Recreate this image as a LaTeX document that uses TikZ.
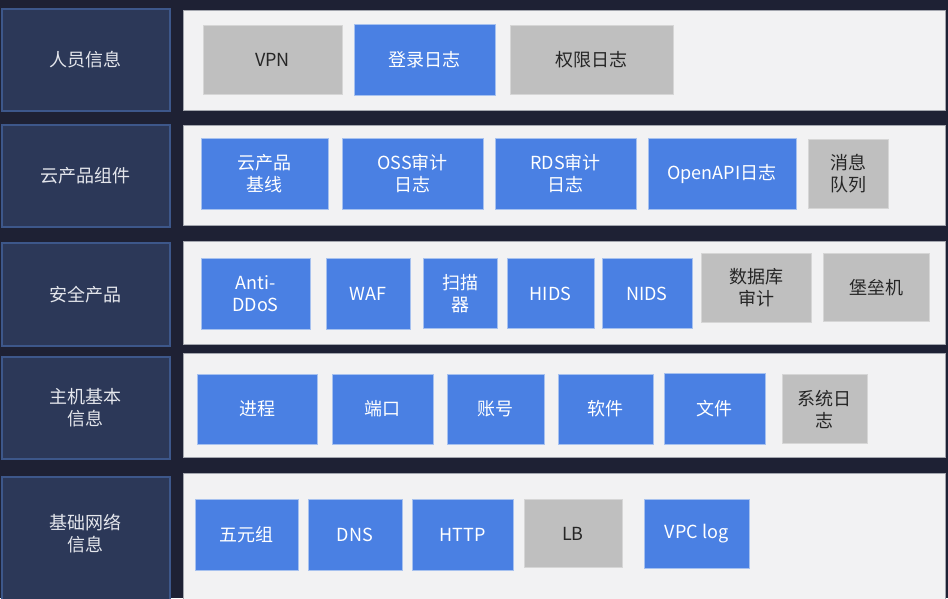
\documentclass[tikz,border=0pt]{standalone}
\usepackage{fontspec}
\setmainfont{Noto Sans CJK SC}
\usetikzlibrary{positioning}
\definecolor{pagebg}{HTML}{1E2134}
\definecolor{catfill}{HTML}{2C3858}
\definecolor{catdraw}{HTML}{3D578A}
\definecolor{cattext}{HTML}{E4E6EC}
\definecolor{panelfill}{HTML}{F2F2F3}
\definecolor{paneldraw}{HTML}{A3A6AE}
\definecolor{srcblue}{HTML}{4A80E3}
\definecolor{srcbluedraw}{HTML}{A6C1EF}
\definecolor{srcgray}{HTML}{BFBFBF}
\definecolor{srcgraydraw}{HTML}{D6D6D6}

\begin{document}
\begin{tikzpicture}[
    x=1pt, y=-1pt,
    font=\fontsize{18}{22}\selectfont,
    cat/.style={draw=catdraw, line width=1.5pt, fill=catfill, text=cattext,
                minimum width=168pt, inner sep=0pt, align=center,
                anchor=north west},
    panel/.style={draw=paneldraw, line width=0.8pt, fill=panelfill,
                  minimum width=762pt, inner sep=0pt, anchor=north west},
    src/.style={inner sep=0pt, outer sep=0pt, line width=0.8pt, align=center},
    bluesrc/.style={src, fill=srcblue, draw=srcbluedraw, text=white},
    graysrc/.style={src, fill=srcgray, draw=srcgraydraw, text=black!85},
]

\useasboundingbox (0,0) rectangle (948,598);
\fill[pagebg] (0,0) rectangle (948,598);

% === Layer labels ===
\node[cat, minimum height=102pt] (person) at (1,8) {人员信息};
\node[cat, minimum height=102pt] (cloud) at (1,124) {云产品组件};
\node[cat, minimum height=103pt] (secprod) at (1,242) {安全产品};
\node[cat, minimum height=102pt] (host) at (1,356) {主机基本\\信息};
\node[cat, minimum height=130pt] (net) at (1,476) {};
\node[text=cattext, align=center] (netlabel) at (85,534) {基础网络\\信息};

% === Panels ===
\node[panel, minimum height=100pt] (personpanel) at (183,10) {};
\node[panel, minimum height=100pt] (cloudpanel) at (183,125) {};
\node[panel, minimum height=103pt] (secpanel) at (183,241) {};
\node[panel, minimum height=104pt] (hostpanel) at (183,353) {};
\node[panel, minimum height=135pt] (netpanel) at (183,473) {};

% === Row 1: personnel ===
\node[graysrc, minimum width=139pt, minimum height=69pt] (vpn) at (272.5,59.5) {VPN};
\node[bluesrc, minimum width=141pt, minimum height=71pt, right=12pt of vpn] (login) {登录日志};
\node[graysrc, minimum width=163pt, minimum height=69pt, right=15pt of login] (perm) {权限日志};

% === Row 2: cloud components ===
\node[bluesrc, minimum width=127pt, minimum height=71pt] (baseline) at (264.5,173.5) {云产品\\基线};
\node[bluesrc, minimum width=141pt, minimum height=71pt, right=14pt of baseline] (oss) {OSS审计\\日志};
\node[bluesrc, minimum width=141pt, minimum height=71pt, right=12pt of oss] (rds) {RDS审计\\日志};
\node[bluesrc, minimum width=148pt, minimum height=71pt, right=12pt of rds] (openapi) {OpenAPI日志};
\node[graysrc, minimum width=80pt, minimum height=69pt, right=12pt of openapi] (mq) {消息\\队列};

% === Row 3: security products ===
\node[bluesrc, minimum width=109pt, minimum height=71pt] (ddos) at (255.5,293.5) {Anti-\\DDoS};
\node[bluesrc, minimum width=84pt, minimum height=71pt, right=16pt of ddos] (waf) {WAF};
\node[bluesrc, minimum width=74pt, minimum height=70pt, right=13pt of waf] (scan) {扫描\\器};
\node[bluesrc, minimum width=87pt, minimum height=70pt, right=10pt of scan] (hids) {HIDS};
\node[bluesrc, minimum width=90pt, minimum height=70pt, right=8pt of hids] (nids) {NIDS};
\node[graysrc, minimum width=110pt, minimum height=69pt, right=9pt of nids, yshift=6pt] (dbaudit) {数据库\\审计};
\node[graysrc, minimum width=106pt, minimum height=68pt, right=12pt of dbaudit] (bastion) {堡垒机};

% === Row 4: host basics ===
\node[bluesrc, minimum width=120pt, minimum height=70pt] (proc) at (257,409) {进程};
\node[bluesrc, minimum width=101pt, minimum height=70pt, right=15pt of proc] (port) {端口};
\node[bluesrc, minimum width=97pt, minimum height=70pt, right=14pt of port] (account) {账号};
\node[bluesrc, minimum width=95pt, minimum height=70pt, right=14pt of account] (software) {软件};
\node[bluesrc, minimum width=101pt, minimum height=71pt, right=11pt of software] (file) {文件};
\node[graysrc, minimum width=85pt, minimum height=69pt, right=17pt of file] (syslog) {系统日\\志};

% === Row 5: basic network ===
\node[bluesrc, minimum width=103pt, minimum height=71pt] (tuple) at (246.5,534.5) {五元组};
\node[bluesrc, minimum width=94pt, minimum height=71pt, right=10pt of tuple] (dns) {DNS};
\node[bluesrc, minimum width=101pt, minimum height=71pt, right=10pt of dns] (http) {HTTP};
\node[graysrc, minimum width=98pt, minimum height=68pt, right=11pt of http, yshift=1pt] (lb) {LB};
\node[bluesrc, minimum width=105pt, minimum height=69pt, right=22pt of lb] (vpc) {VPC log};

\end{tikzpicture}
\end{document}
